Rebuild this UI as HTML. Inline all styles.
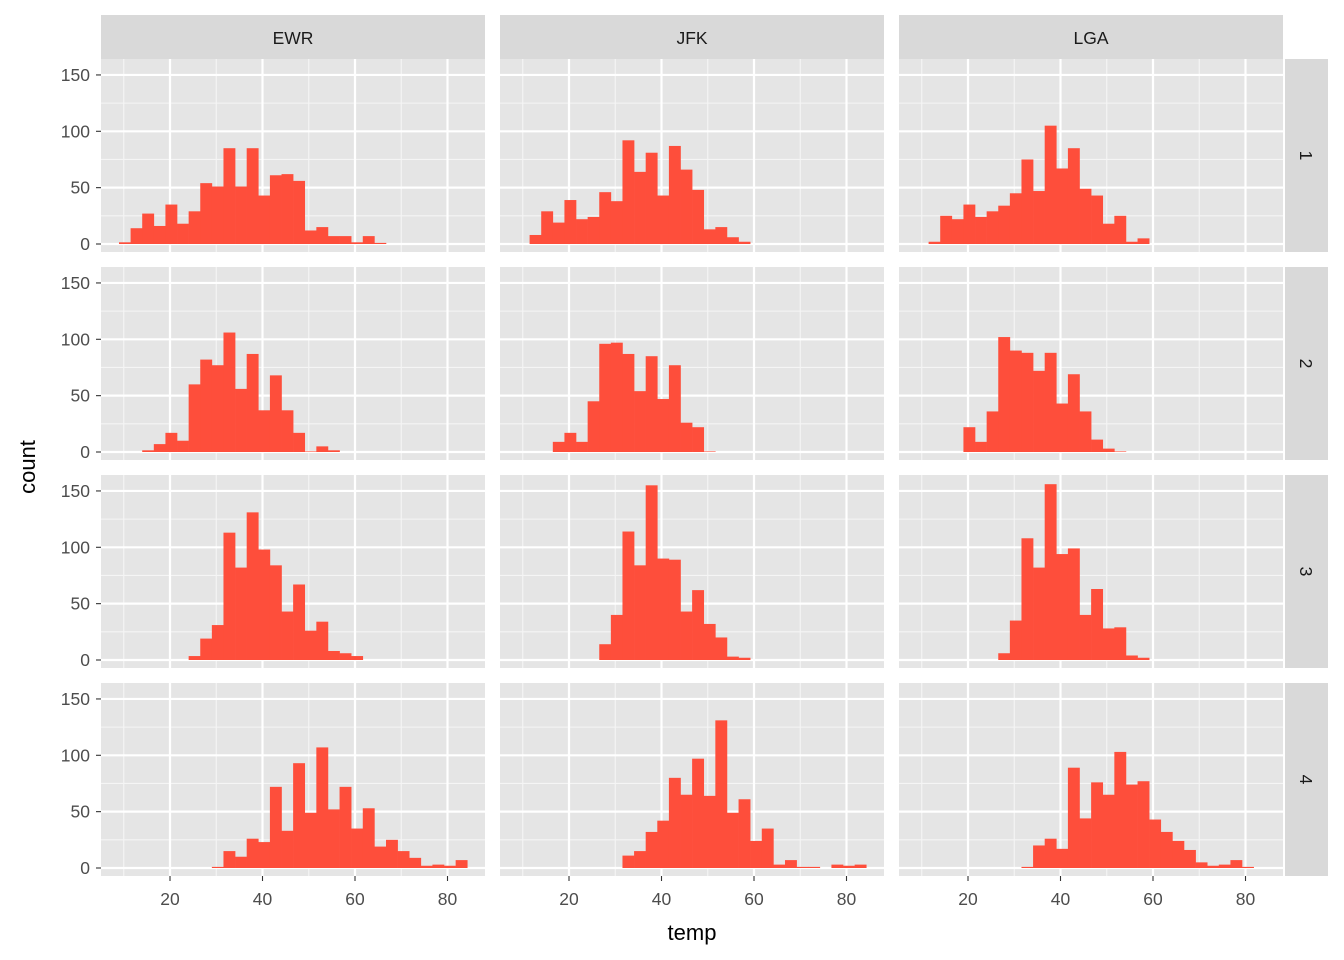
<!DOCTYPE html>
<html><head><meta charset="utf-8"><style>
body{margin:0;background:#fff;}
svg{display:block;font-family:"Liberation Sans",sans-serif;}
</style></head><body>
<svg id="chart" width="1344" height="960"></svg>
<script>
const airports = ["EWR","JFK","LGA"];
const quarters = ["1","2","3","4"];
const binStart = 8.97;
const binWidth = 2.51;
const xTicks = [20,40,60,80];
const yTicks = [0,50,100,150];
// counts per bin (30 bins), row = quarter, col = airport
const ewr1 = [1.5,14,27,16,35,18,29,54,51,85,51,85,43,61,62,56,12,15,7,7,1.5,7,1,0,0,0,0,0,0,0];
const jfk1 = [0,8,29,19,39,22,24,46,38,92,64,81,43,87,66,48,13,15,6,2,0,0,0,0,0,0,0,0,0,0];
const lga1 = [0,2,25,22,35,24,29,34,45,75,47,105,67,85,49,43,18,25,2,5,0,0,0,0,0,0,0,0,0,0];
const ewr2 = [0,0,1.5,7,17,10,60,82,77,106,56,87,37,68,37,17,0.5,5,1.5,0,0,0,0,0,0,0,0,0,0,0];
const jfk2 = [0,0,0,9,17,9,45,96,97,87,54,85,47,77,26,22,0.5,0,0,0,0,0,0,0,0,0,0,0,0,0];
const lga2 = [0,0,0,0,22,9,36,102,90,88,72,88,43,69,36,11,3,0.5,0,0,0,0,0,0,0,0,0,0,0,0];
const ewr3 = [0,0,0,0,0,0,3.5,19,31,113,82,131,98,84,43,67,26,34,8,6,3.5,0,0,0,0,0,0,0,0,0];
const jfk3 = [0,0,0,0,0,0,0,14,40,114,84,155,90,89,43,62,32,20,3,2,0,0,0,0,0,0,0,0,0,0];
const lga3 = [0,0,0,0,0,0,0,6,35,108,82,156,94,99,40,63,28,29,4,2,0,0,0,0,0,0,0,0,0,0];
const ewr4 = [0,0,0,0,0,0,0,0,1,15,10,26,23,72,33,93,49,107,52,72,35,53,19,25,15,9,2,3,2,7];
const jfk4 = [0,0,0,0,0,0,0,0,0,11,15,32,42,80,65,97,64,131,49,61,24,35,3,7,1,1,0,3,2,3];
const lga4 = [0,0,0,0,0,0,0,0,0,1,20,26,17,89,44,76,65,103,74,77,43,32,24,16,5,2,3,7,1,0];
const grid = [[ewr1,jfk1,lga1],[ewr2,jfk2,lga2],[ewr3,jfk3,lga3],[ewr4,jfk4,lga4]];

const NS="http://www.w3.org/2000/svg";
const svg=document.getElementById('chart');
function mk(tag,attrs,parent){const e=document.createElementNS(NS,tag);for(const k in attrs)e.setAttribute(k,attrs[k]);(parent||svg).appendChild(e);return e;}
const colX=[101,500,899], panelW=384;
const rowY=[59,267,475,683], panelH=193;
const xMin=5.08, xScale=4.625;
const yScale=1.127, zeroOff=185;
function sx(c,v){return colX[c]+(v-xMin)*xScale;}
function sy(r,v){return rowY[r]+zeroOff-v*yScale;}

for(let c=0;c<3;c++){
  const st=mk('rect',{x:colX[c],y:15,width:panelW,height:44,fill:'#d9d9d9'});
  
  
  const t=mk('text',{x:colX[c]+panelW/2,y:44,'text-anchor':'middle','font-size':'17.5',fill:'#1a1a1a'});
  t.textContent=airports[c];
  
  
}
for(let r=0;r<4;r++){
  const st=mk('rect',{x:1285,y:rowY[r],width:43,height:panelH,fill:'#d9d9d9'});
  
  
  const cx=1306, cy=rowY[r]+panelH/2;
  const t=mk('text',{x:cx,y:cy,'text-anchor':'middle','dominant-baseline':'central','font-size':'17.5',fill:'#1a1a1a',transform:`rotate(90 ${cx} ${cy})`});
  t.textContent=quarters[r];
  
  
}
for(let r=0;r<4;r++){
  for(let c=0;c<3;c++){
    const g=mk('g',{});
    
    
    mk('rect',{x:colX[c],y:rowY[r],width:panelW,height:panelH,fill:'#e5e5e5'},g);
    for(let v=10;v<=80;v+=20) mk('line',{x1:sx(c,v),x2:sx(c,v),y1:rowY[r],y2:rowY[r]+panelH,stroke:'#f5f5f5','stroke-width':1.1},g);
    for(let v=25;v<=125;v+=50) mk('line',{x1:colX[c],x2:colX[c]+panelW,y1:sy(r,v),y2:sy(r,v),stroke:'#f5f5f5','stroke-width':1.1},g);
    xTicks.forEach(v=>mk('line',{x1:sx(c,v),x2:sx(c,v),y1:rowY[r],y2:rowY[r]+panelH,stroke:'#fff','stroke-width':2.2},g));
    yTicks.forEach(v=>mk('line',{x1:colX[c],x2:colX[c]+panelW,y1:sy(r,v),y2:sy(r,v),stroke:'#fff','stroke-width':2.2},g));
    const data=grid[r][c];
    data.forEach((n,i)=>{
      if(n<=0)return;
      const x0=sx(c,binStart+i*binWidth), x1=sx(c,binStart+(i+1)*binWidth);
      const b=mk('rect',{x:x0,y:sy(r,n),width:x1-x0+0.3,height:n*yScale,fill:'#FE4E3B'},g);
      
      
    });
  }
  yTicks.forEach(v=>{
    mk('line',{x1:96,x2:101,y1:sy(r,v),y2:sy(r,v),stroke:'#333','stroke-width':1.1});
    const t=mk('text',{x:90,y:sy(r,v)+6,'text-anchor':'end','font-size':'17.5',fill:'#4d4d4d'});
    t.textContent=v;
    
    
  });
}
for(let c=0;c<3;c++){
  xTicks.forEach(v=>{
    mk('line',{x1:sx(c,v),x2:sx(c,v),y1:876,y2:881,stroke:'#333','stroke-width':1.1});
    const t=mk('text',{x:sx(c,v),y:905,'text-anchor':'middle','font-size':'17.5',fill:'#4d4d4d'});
    t.textContent=v;
    
    
  });
}
const xt=mk('text',{x:692,y:940,'text-anchor':'middle','font-size':'22',fill:'#000'});
xt.textContent='temp';


const yt=mk('text',{x:0,y:0,'text-anchor':'middle','font-size':'22',fill:'#000',transform:'translate(35 467) rotate(-90)'});
yt.textContent='count';


</script>
</body></html>
